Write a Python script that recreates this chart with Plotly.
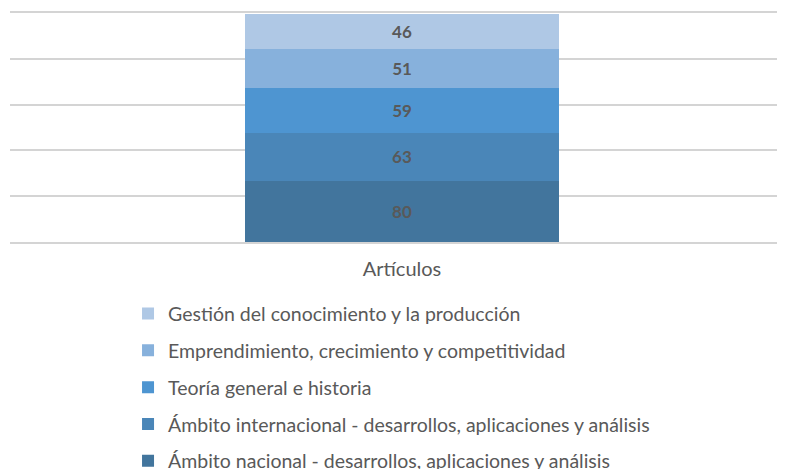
import plotly.graph_objects as go

category = ["Artículos"]
series_names = [
    "Ámbito nacional - desarrollos, aplicaciones y análisis",
    "Ámbito internacional - desarrollos, aplicaciones y análisis",
    "Teoría general e historia",
    "Emprendimiento, crecimiento y competitividad",
    "Gestión del conocimiento y la producción",
]
series_values = [80, 63, 59, 51, 46]
series_colors = ["#42759d", "#4a86b8", "#4e95d1", "#87b1dc", "#afc8e5"]

FONT = "Lato"
fig = go.Figure()
n = len(series_names)
for i, (name, val, col) in enumerate(zip(series_names, series_values, series_colors)):
    fig.add_trace(go.Bar(
        x=category, y=[val], name=name, legendgroup=f"g{i}", legendrank=n - i,
        marker=dict(color=col, line=dict(width=0)),
        width=0.4,
        text=[str(val)], textposition="inside", insidetextanchor="middle",
        textfont=dict(family=FONT, size=17, color="#595959", weight="bold"),
        constraintext="none",
    ))

fig.update_layout(
    width=777, height=461,
    margin=dict(l=2, r=0, t=4.5, b=226.5, autoexpand=False),
    barmode="stack",
    plot_bgcolor="white", paper_bgcolor="white",
    font=dict(family=FONT, color="#595959"),
    xaxis=dict(range=[-0.4994, 0.4879], showgrid=False, showline=True, mirror=True,
               linecolor="#d4d4d4", linewidth=1.5,
               ticks="", tickfont=dict(size=20, color="#595959"), zeroline=False,
               ticklabelstandoff=8),
    yaxis=dict(range=[0, 300], dtick=60, showgrid=True, gridcolor="#d4d4d4",
               gridwidth=1.5, showticklabels=False, zeroline=False, showline=False),
    legend=dict(
        orientation="v", traceorder="grouped", tracegroupgap=8.5,
        x=0.1523, y=-0.2283,
        xanchor="left", yanchor="top",
        font=dict(size=19.5, color="#595959", family=FONT),
        bgcolor="rgba(0,0,0,0)",
    ),
    showlegend=True,
)

fig.write_html("out.html")
